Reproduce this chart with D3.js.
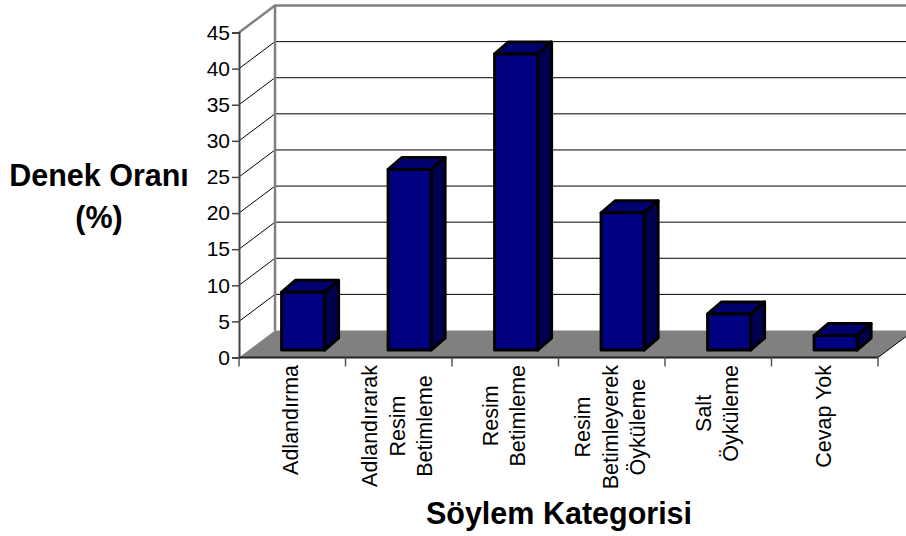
<!DOCTYPE html>
<html>
<head>
<meta charset="utf-8">
<script src="https://cdn.jsdelivr.net/npm/d3@7"></script>
<style>
  html, body { margin: 0; padding: 0; background: #fff; }
  svg { display: block; }
  text { font-family: "Liberation Sans", Arial, sans-serif; fill: #000; }
</style>
</head>
<body>
<div id="chart"></div>
<script>
var categories = [
    ["Adlandırma"],
    ["Adlandırarak", "Resim", "Betimleme"],
    ["Resim", "Betimleme"],
    ["Resim", "Betimleyerek", "Öyküleme"],
    ["Salt", "Öyküleme"],
    ["Cevap Yok"]
];
var values = [8, 25, 41, 19, 5, 2];
var yTicks = [0, 5, 10, 15, 20, 25, 30, 35, 40, 45];

var width = 906, height = 536;
var depth = {x: 36, y: -27};
var barDepth = {x: 14, y: -12};
var barWidth = 43;
var barLift = 7.5;

var svg = d3.select("#chart").append("svg")
    .attr("width", width)
    .attr("height", height);

var x = d3.scaleBand()
    .domain(d3.range(categories.length))
    .range([239, 878]);
var y = d3.scaleLinear()
    .domain([0, 45])
    .range([357.5, 32.5]);

function pts(a) {
    return a.map(function(p) { return p.join(","); }).join(" ");
}

// floor
svg.append("polygon")
    .attr("points", pts([
        [x.range()[0], y(0)],
        [x.range()[0] + depth.x, y(0) + depth.y],
        [x.range()[1] + depth.x, y(0) + depth.y],
        [x.range()[1], y(0)]
    ]))
    .attr("fill", "#808080");

// gridlines: diagonal on the side wall, then along the back wall
yTicks.slice(1, -1).forEach(function(t) {
    svg.append("polyline")
        .attr("points", pts([
            [x.range()[0], y(t)],
            [x.range()[0] + depth.x, y(t) + depth.y],
            [x.range()[1] + depth.x, y(t) + depth.y]
        ]))
        .attr("fill", "none")
        .attr("stroke", "#000")
        .attr("stroke-width", 1);
});

// walls
svg.append("polyline")
    .attr("points", pts([
        [x.range()[0], y(45)],
        [x.range()[0] + depth.x, y(45) + depth.y],
        [x.range()[1] + depth.x, y(45) + depth.y]
    ]))
    .attr("fill", "none")
    .attr("stroke", "#808080")
    .attr("stroke-width", 2.5);
svg.append("line")
    .attr("x1", x.range()[0] + depth.x)
    .attr("x2", x.range()[0] + depth.x)
    .attr("y1", y(45) + depth.y)
    .attr("y2", y(0) + depth.y)
    .attr("stroke", "#808080")
    .attr("stroke-width", 2.5);

// floor front right edge
svg.append("line")
    .attr("x1", x.range()[1])
    .attr("y1", y(0))
    .attr("x2", x.range()[1] + depth.x)
    .attr("y2", y(0) + depth.y)
    .attr("stroke", "#000")
    .attr("stroke-width", 1);

// bars
var bar = svg.selectAll(".bar")
    .data(values)
    .enter()
    .append("g")
    .attr("class", "bar")
    .attr("stroke", "#000")
    .attr("stroke-width", 3)
    .attr("stroke-linejoin", "round");

function barLeft(i) { return x(i) + x.bandwidth() * 0.4 ; }
function barTop(d) { return y(d) - barLift; }
function barBottom() { return y(0) - barLift; }

bar.append("polygon")
    .attr("fill", "#00006e")
    .attr("points", function(d, i) {
        var l = barLeft(i), t = barTop(d);
        return pts([[l, t], [l + barDepth.x, t + barDepth.y],
            [l + barWidth + barDepth.x, t + barDepth.y], [l + barWidth, t]]);
    });
bar.append("polygon")
    .attr("fill", "#000050")
    .attr("points", function(d, i) {
        var r = barLeft(i) + barWidth, t = barTop(d), b = barBottom();
        return pts([[r, t], [r + barDepth.x, t + barDepth.y],
            [r + barDepth.x, b + barDepth.y], [r, b]]);
    });
bar.append("rect")
    .attr("fill", "#000080")
    .attr("x", function(d, i) { return barLeft(i); })
    .attr("y", barTop)
    .attr("width", barWidth)
    .attr("height", function(d) { return barBottom() - barTop(d); });

// y axis
var yAxis = svg.append("g")
    .attr("transform", "translate(" + x.range()[0] + ",0)")
    .call(d3.axisLeft(y).tickValues(yTicks).tickSize(7).tickPadding(2));
yAxis.selectAll("text").style("font-size", "21px");
yAxis.selectAll("line").attr("stroke", "#444").attr("stroke-width", 1.5);
yAxis.select(".domain").attr("stroke", "#444").attr("stroke-width", 2);

// x axis
var xAxis = svg.append("g")
    .attr("transform", "translate(0," + y(0) + ")");
xAxis.append("line")
    .attr("x1", x.range()[0])
    .attr("x2", x.range()[1])
    .attr("stroke", "#222")
    .attr("stroke-width", 2);
xAxis.selectAll(".tick")
    .data(d3.range(categories.length + 1))
    .enter()
    .append("line")
    .attr("class", "tick")
    .attr("x1", function(i) { return x.range()[0] + i * x.step(); })
    .attr("x2", function(i) { return x.range()[0] + i * x.step(); })
    .attr("y2", 9)
    .attr("stroke", "#555")
    .attr("stroke-width", 1.5);

// category labels, rotated, one column per line
// each block is centred on its longest line, which starts just under the ticks
var lineGap = 27.5;
var labelTop = 365;
categories.forEach(function(lines, i) {
    var cx = x(i) + x.bandwidth() / 2;
    var labels = lines.map(function(s, j) {
        var lx = cx + (j - (lines.length - 1) / 2) * lineGap;
        return svg.append("text")
            .attr("data-x", lx + 6)
            .attr("text-anchor", "middle")
            .style("font-size", "21.5px")
            .text(s);
    });
    var longest = d3.max(labels, function(t) { return t.node().getComputedTextLength(); });
    labels.forEach(function(t) {
        t.attr("transform", "translate(" + t.attr("data-x") + "," + (labelTop + longest / 2) + ") rotate(-90)")
            .attr("data-x", null);
    });
});

// titles
svg.append("text")
    .attr("x", 99).attr("y", 186)
    .attr("text-anchor", "middle")
    .style("font-size", "30.5px").style("font-weight", "bold")
    .text("Denek Oranı");
svg.append("text")
    .attr("x", 99).attr("y", 228)
    .attr("text-anchor", "middle")
    .style("font-size", "30.5px").style("font-weight", "bold")
    .text("(%)");
svg.append("text")
    .attr("x", 559).attr("y", 524)
    .attr("text-anchor", "middle")
    .style("font-size", "30.5px").style("font-weight", "bold")
    .text("Söylem Kategorisi");
</script>
</body>
</html>
